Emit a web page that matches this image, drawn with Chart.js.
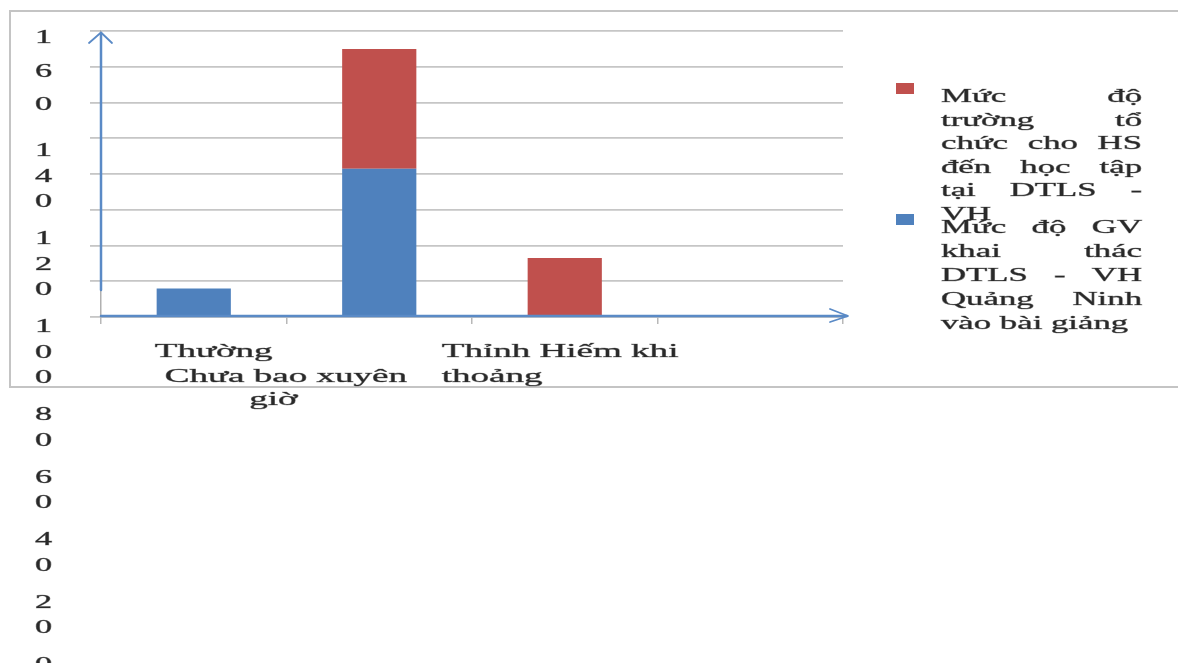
<!DOCTYPE html>
<html>
<head>
<meta charset="utf-8">
<script src="https://cdn.jsdelivr.net/npm/chart.js@4/dist/chart.umd.min.js"></script>
<style>
html,body{margin:0;padding:0;background:#fff;}
#wrap{position:relative;width:1178px;height:663px;overflow:hidden;}
</style>
</head>
<body>
<div id="wrap"><canvas id="c" width="1178" height="663"></canvas></div>
<script>
// ---- data ----
const categories = ["Thường xuyên", "Chưa bao giờ", "Thỉnh thoảng", "Hiếm khi"];
const seriesGV = [16, 83, 0, 0];   // blue
const seriesHS = [0, 67, 33, 0];   // red
const seriesLabels = [
  "Mức độ GV khai thác DTLS - VH Quảng Ninh vào bài giảng",
  "Mức độ trường tổ chức cho HS đến học tập tại DTLS - VH"
];
const seriesColors = ["#4f81bd", "#c0504d"];
const yMin = 0, yMax = 160, yStep = 20;
// legend text as wrapped in the picture (words per line)
const legendLinesGV = [["Mức","độ","GV"],["khai","thác"],["DTLS","-","VH"],["Quảng","Ninh"],["vào","bài","giảng"]];
const legendLinesHS = [["Mức","độ"],["trường","tổ"],["chức","cho","HS"],["đến","học","tập"],["tại","DTLS","-"],["VH"]];

// ---- drawing helpers ----
const FONT = "'Liberation Serif','Times New Roman',serif";
const TEXT_COLOR = "#2a2a2a";
function setFont(ctx, size){ ctx.font = size + "px " + FONT; }
function textW(ctx, s, size, sx){ ctx.save(); setFont(ctx,size); const w = ctx.measureText(s).width*sx; ctx.restore(); return w; }
function drawText(ctx, s, x, y, size, sx){
  ctx.save(); setFont(ctx,size); ctx.fillStyle = TEXT_COLOR; ctx.strokeStyle = "rgba(42,42,42,0.55)"; ctx.lineWidth = 0.6;
  ctx.textBaseline = "alphabetic"; ctx.textAlign = "left";
  ctx.translate(x,y); ctx.scale(sx,1); ctx.fillText(s,0,0); ctx.strokeText(s,0,0); ctx.restore();
}

const decorPlugin = {
  id: "decor",
  beforeDraw(chart){
    const ctx = chart.ctx;
    ctx.save();
    ctx.fillStyle = "#fff"; ctx.fillRect(0,0,chart.width,chart.height);
    ctx.strokeStyle = "#c4c4c4"; ctx.lineWidth = 2;
    ctx.strokeRect(10, 11, chart.width + 20, 376);
    ctx.restore();
  },
  afterDraw(chart){
    const ctx = chart.ctx;
    const a = chart.chartArea;
    const xs = chart.scales.x, ys = chart.scales.y;
    // blue arrow overlays
    ctx.save();
    ctx.strokeStyle = "#5a8ac6"; ctx.lineWidth = 2.5; ctx.lineCap = "round"; ctx.lineJoin = "round";
    const ax = a.left;
    ctx.beginPath(); ctx.moveTo(ax, a.bottom - 27); ctx.lineTo(ax, a.top + 2); ctx.stroke();
    ctx.lineWidth = 1.8;
    ctx.beginPath(); ctx.moveTo(ax - 12, a.top + 12); ctx.lineTo(ax, a.top + 1.5); ctx.lineTo(ax + 11, a.top + 12); ctx.stroke();
    ctx.lineWidth = 2.5;
    const ay = a.bottom - 1;
    ctx.beginPath(); ctx.moveTo(a.left, ay); ctx.lineTo(a.right + 4, ay); ctx.stroke();
    ctx.lineWidth = 1.8;
    ctx.beginPath(); ctx.moveTo(a.right - 13, ay - 7); ctx.lineTo(a.right + 5, ay); ctx.lineTo(a.right - 13, ay + 6); ctx.stroke();
    ctx.restore();

    // y tick labels: digits stacked vertically, flowing down
    const ticks = ys.ticks.map(t => String(t.value)).reverse();
    const ySize = 18, ySx = 1.9, yCx = 43.5;
    let cy = 37;
    ticks.forEach((lab, bi) => {
      const lh = bi === 0 ? 33.5 : 25.5;
      const chars = lab.split("");
      chars.forEach((ch, ci) => {
        const w = textW(ctx, ch, ySize, ySx);
        drawText(ctx, ch, yCx - w/2, cy + 6, ySize, ySx);
        if (ci < chars.length - 1) cy += lh;
      });
      cy += (bi === 0 ? 46 : 37);
    });

    // x category labels (wrapped/overlapping as in the picture)
    const xSize = 19.5, xSx = 1.9;
    const c0 = xs.getPixelForValue(0), c1 = xs.getPixelForValue(1), c2 = xs.getPixelForValue(2);
    const w0 = categories[0].split(" "), w1 = categories[1].split(" "), w2 = categories[2].split(" ");
    drawText(ctx, w0[0], c0 - 39, a.bottom + 40, xSize, xSx);
    drawText(ctx, w1.slice(0,2).join(" ") + " " + w0[1], c0 - 29, a.bottom + 65, xSize, xSx);
    drawText(ctx, w1[2], c1 - 130, a.bottom + 88, xSize, xSx);
    drawText(ctx, w2[0] + " " + categories[3], c2 - 123, a.bottom + 40, xSize, xSx);
    drawText(ctx, w2[1], c2 - 123, a.bottom + 65, xSize, xSx);

    // legend (reverse order, justified wrapped text)
    const lSize = 18, lSx = 1.93, lx = 941, rx = 1142;
    const items = [
      {color: seriesColors[1], lines: legendLinesHS, y0: 102, lh: 23.5},
      {color: seriesColors[0], lines: legendLinesGV, y0: 233, lh: 24}
    ];
    items.forEach(it => {
      ctx.save(); ctx.fillStyle = it.color; ctx.fillRect(896, it.y0 - 19, 18, 11); ctx.restore();
      it.lines.forEach((ws, li) => {
        const y = it.y0 + li * it.lh;
        const last = li === it.lines.length - 1;
        if (last || ws.length === 1) {
          drawText(ctx, ws.join(" "), lx, y, lSize, lSx);
        } else {
          const widths = ws.map(s => textW(ctx, s, lSize, lSx));
          const tot = widths.reduce((p,q)=>p+q,0);
          const gap = (rx - lx - tot) / (ws.length - 1);
          let x = lx;
          ws.forEach((s, i) => { drawText(ctx, s, x, y, lSize, lSx); x += widths[i] + gap; });
        }
      });
    });
  }
};

const ctx = document.getElementById("c").getContext("2d");
new Chart(ctx, {
  type: "bar",
  data: {
    labels: categories,
    datasets: [
      {label: seriesLabels[0], data: seriesGV, backgroundColor: seriesColors[0], categoryPercentage: 1, barPercentage: 0.4},
      {label: seriesLabels[1], data: seriesHS, backgroundColor: seriesColors[1], categoryPercentage: 1, barPercentage: 0.4}
    ]
  },
  options: {
    responsive: false,
    animation: false,
    devicePixelRatio: 1,
    layout: {padding: {left: 0, top: 31, right: 335, bottom: 0}},
    plugins: {legend: {display: false}, tooltip: {enabled: false}},
    scales: {
      x: {
        stacked: true,
        ticks: {display: false},
        grid: {drawOnChartArea: false, drawTicks: true, tickLength: 7, color: "#b8b8b8", lineWidth: 1.5, offset: true},
        border: {display: true, color: "#b8b8b8", width: 1.5},
        afterFit(scale){ scale.height = 346; }
      },
      y: {
        stacked: true,
        min: yMin, max: yMax,
        ticks: {display: false, stepSize: yStep},
        grid: {color: "#c6c6c6", lineWidth: 1.8, drawTicks: true, tickLength: 11},
        border: {display: true, color: "#b0b0b0", width: 1.5},
        afterFit(scale){ scale.width = 101; }
      }
    }
  },
  plugins: [decorPlugin]
});
</script>
</body>
</html>
